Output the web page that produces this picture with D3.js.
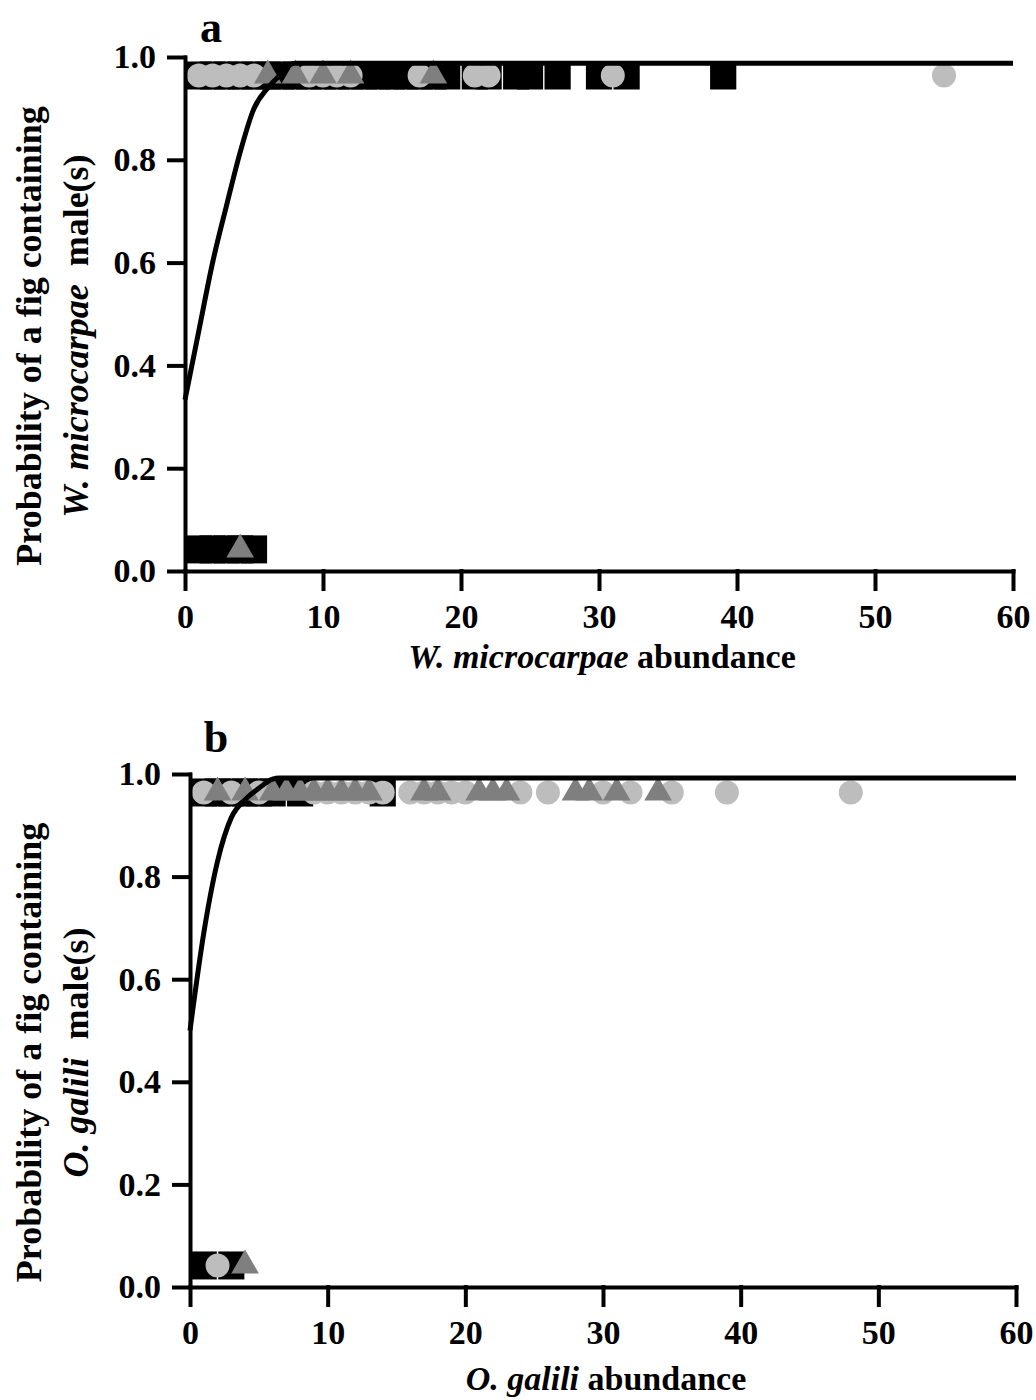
<!DOCTYPE html>
<html>
<head>
<meta charset="utf-8">
<script src="https://cdn.jsdelivr.net/npm/d3@7"></script>
<style>
  body { margin: 0; background: #fff; }
  svg text { font-family: 'Times New Roman', 'Liberation Serif', serif; font-weight: bold; fill: #000; }
</style>
</head>
<body>
<svg id="chart" width="1036" height="1400"></svg>
<script>
// shared ticks
const xTicks = [0, 10, 20, 30, 40, 50, 60];
const yTicks = [0, 0.2, 0.4, 0.6, 0.8, 1.0];

// panel a - W. microcarpae
const aSquaresTop = [1, 2, 3, 4, 5, 6, 7, 8, 9, 10, 11, 12, 13, 14, 15, 16, 17, 18, 19, 21, 22, 24, 25, 27, 30, 32, 39];
const aSquaresLow = [1, 2, 3, 4, 5];
const aCirclesTop = [1, 2, 3, 4, 5, 9, 10, 11, 12, 17, 21, 22, 31, 55];
const aCirclesLow = [];
const aTrianglesTop = [6, 8, 10, 12, 18];
const aTrianglesLow = [4];
const aCurveX = [0, 1, 2, 3, 4, 5, 6, 7, 7.6, 8, 60];
const aCurveY = [0.333, 0.467, 0.6, 0.71, 0.815, 0.9, 0.94, 0.968, 0.985, 0.988, 0.988];

// panel b - O. galili
const bSquaresTop = [1, 2, 3, 4, 5, 6, 8, 14];
const bSquaresLow = [1, 3];
const bCirclesTop = [1, 3, 5, 9, 10, 11, 12, 13, 14, 16, 17, 18, 19, 20, 24, 26, 30, 32, 35, 39, 48];
const bCirclesLow = [2];
const bTrianglesTop = [2, 4, 6, 7, 8, 9, 10, 11, 12, 13, 17, 18, 21, 22, 23, 28, 29, 31, 34];
const bTrianglesLow = [4];
const bCurveX = [0, 1, 2, 3, 4, 5, 6, 6.5, 60];
const bCurveY = [0.5, 0.69, 0.83, 0.915, 0.95, 0.972, 0.99, 0.992, 0.992];

const topLevel = 0.964, lowLevel = 0.042;

const svg = d3.select('#chart');

drawPanel({
    letter: 'a', letterY: 42, left: 185, right: 1013, top: 57, bottom: 571, titleGap: 97,
    species: 'W. microcarpae',
    squaresTop: aSquaresTop, squaresLow: aSquaresLow,
    circlesTop: aCirclesTop, circlesLow: aCirclesLow,
    trianglesTop: aTrianglesTop, trianglesLow: aTrianglesLow,
    curveX: aCurveX, curveY: aCurveY
});

drawPanel({
    letter: 'b', letterY: 752, left: 190, right: 1016, top: 774, bottom: 1287, titleGap: 103,
    species: 'O. galili',
    squaresTop: bSquaresTop, squaresLow: bSquaresLow,
    circlesTop: bCirclesTop, circlesLow: bCirclesLow,
    trianglesTop: bTrianglesTop, trianglesLow: bTrianglesLow,
    curveX: bCurveX, curveY: bCurveY
});

function drawPanel(p){
    const x = d3.scaleLinear().domain([0, 60]).range([p.left, p.right]);
    const y = d3.scaleLinear().domain([0, 1]).range([p.bottom, p.top]);
    const g = svg.append('g');

    const toPts = (xs, level) => xs.map(v => ({x: v, y: level}));

    // black squares
    const sq = x(1.9) - x(0);
    g.selectAll('.sq')
        .data(toPts(p.squaresTop, topLevel).concat(toPts(p.squaresLow, lowLevel)))
        .enter().append('rect')
        .attr('x', d => x(d.x) - sq / 2)
        .attr('y', d => y(d.y) - 14)
        .attr('width', sq)
        .attr('height', 28)
        .attr('fill', '#000');

    // grey circles
    g.selectAll('.ci')
        .data(toPts(p.circlesTop, topLevel).concat(toPts(p.circlesLow, lowLevel)))
        .enter().append('circle')
        .attr('cx', d => x(d.x))
        .attr('cy', d => y(d.y))
        .attr('r', 12)
        .attr('fill', '#bdbdbd');

    // dark grey triangles
    const tri = d3.symbol(d3.symbolTriangle, 330);
    g.selectAll('.tr')
        .data(toPts(p.trianglesTop, topLevel).concat(toPts(p.trianglesLow, lowLevel)))
        .enter().append('path')
        .attr('d', tri)
        .attr('transform', d => `translate(${x(d.x)},${y(d.y)})`)
        .attr('fill', '#7f7f7f');

    // fitted curve
    const line = d3.line()
        .x((d, i) => x(p.curveX[i]))
        .y(d => y(d))
        .curve(d3.curveMonotoneX);
    g.append('path')
        .attr('d', line(p.curveY))
        .attr('fill', 'none')
        .attr('stroke', '#000')
        .attr('stroke-width', 5);

    // axes
    const xAxis = g.append('g')
        .attr('transform', `translate(0,${p.bottom})`)
        .call(d3.axisBottom(x).tickValues(xTicks).tickSize(18).tickSizeOuter(0).tickPadding(15));
    const yAxis = g.append('g')
        .attr('transform', `translate(${p.left},0)`)
        .call(d3.axisLeft(y).tickValues(yTicks).tickFormat(d3.format('.1f')).tickSize(16).tickSizeOuter(0).tickPadding(13));

    [xAxis, yAxis].forEach(a => {
        a.attr('font-family', null);
        a.selectAll('path, line').attr('stroke', '#000').attr('stroke-width', 4).attr('stroke-linecap', 'square');
        a.selectAll('text').style('font-size', '34px').attr('fill', '#000');
    });

    // panel letter
    g.append('text')
        .attr('x', p.left + 26)
        .attr('y', p.letterY)
        .attr('text-anchor', 'middle')
        .style('font-size', '44px')
        .text(p.letter);

    // x title
    const xt = g.append('text')
        .attr('x', (p.left + p.right) / 2 + 3)
        .attr('y', p.bottom + p.titleGap)
        .attr('text-anchor', 'middle')
        .style('font-size', '34px');
    xt.append('tspan').style('font-style', 'italic').text(p.species);
    xt.append('tspan').text(' abundance');

    // y title, two lines
    const cy = (p.top + p.bottom) / 2 + 22;
    g.append('text')
        .attr('transform', `translate(41,${cy}) rotate(-90)`)
        .attr('text-anchor', 'middle')
        .style('font-size', '36px')
        .text('Probability of a fig containing');
    const yt = g.append('text')
        .attr('transform', `translate(88,${cy}) rotate(-90)`)
        .attr('text-anchor', 'middle')
        .style('font-size', '36px');
    yt.append('tspan').style('font-style', 'italic').text(p.species);
    yt.append('tspan').text('\u00a0 male(s)');
}
</script>
</body>
</html>
